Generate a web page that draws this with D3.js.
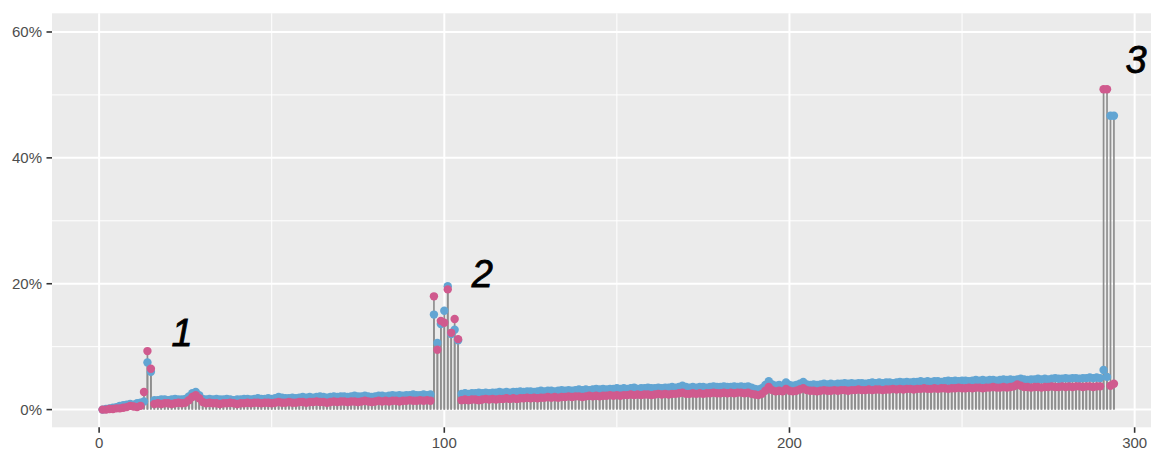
<!DOCTYPE html>
<html>
<head>
<meta charset="utf-8">
<script src="https://cdn.jsdelivr.net/npm/d3@7/dist/d3.min.js"></script>
<style>
  html, body { margin: 0; padding: 0; background: #fff; }
  svg { display: block; }
  text { font-family: "Liberation Sans", Arial, Helvetica, sans-serif; }
</style>
</head>
<body>
<svg id="chart" width="1151" height="450"></svg>
<script>
// Share (in %) per position, two groups; rows of ten, starting at position 1.
const seriesBlue = [
  0.0,0.1,0.2,0.3,0.4,0.6,0.7,0.8,0.9,0.8,
  1.0,1.1,1.3,7.5,6.0,1.5,1.5,1.6,1.6,1.5,
  1.6,1.7,1.6,1.6,1.7,2.1,2.6,2.8,2.3,1.7,
  1.6,1.7,1.6,1.7,1.6,1.6,1.7,1.6,1.5,1.6,
  1.6,1.7,1.7,1.6,1.7,1.8,1.7,1.7,1.8,1.7,
  1.8,2.0,1.9,1.8,1.8,1.9,1.8,1.9,2.0,1.9,
  2.0,1.9,2.0,2.1,2.0,1.9,2.0,2.1,2.0,2.1,
  2.1,2.0,2.1,2.2,2.1,2.1,2.2,2.1,2.0,2.1,
  2.2,2.2,2.1,2.2,2.3,2.2,2.3,2.2,2.3,2.3,
  2.4,2.3,2.3,2.4,2.3,2.4,15.1,10.6,13.6,15.7,
  19.6,12.0,12.7,11.0,2.5,2.6,2.5,2.6,2.6,2.7,
  2.6,2.7,2.6,2.7,2.7,2.8,2.7,2.8,2.7,2.8,
  2.8,2.9,2.8,2.9,2.9,2.8,2.9,3.0,2.9,3.0,
  3.0,2.9,3.0,3.1,3.0,3.1,3.0,3.1,3.2,3.1,
  3.2,3.1,3.2,3.3,3.2,3.3,3.2,3.3,3.3,3.4,
  3.3,3.4,3.3,3.4,3.5,3.3,3.4,3.4,3.5,3.4,
  3.4,3.5,3.4,3.5,3.5,3.6,3.5,3.6,3.8,3.6,
  3.5,3.6,3.5,3.6,3.6,3.5,3.6,3.7,3.6,3.6,
  3.7,3.6,3.6,3.7,3.6,3.7,3.6,3.7,3.5,3.3,
  3.2,3.4,3.9,4.5,4.0,3.8,3.9,3.8,4.3,3.9,
  3.8,3.9,4.1,4.4,4.0,3.9,4.0,3.9,4.0,4.1,
  4.0,4.1,4.0,4.1,4.1,4.2,4.1,4.2,4.1,4.2,
  4.2,4.1,4.2,4.3,4.2,4.3,4.2,4.3,4.3,4.2,
  4.3,4.4,4.3,4.4,4.3,4.4,4.4,4.5,4.4,4.5,
  4.4,4.5,4.5,4.4,4.5,4.6,4.5,4.6,4.5,4.6,
  4.6,4.5,4.6,4.7,4.6,4.7,4.6,4.7,4.7,4.6,
  4.7,4.8,4.7,4.8,4.7,4.8,4.9,4.8,4.7,4.8,
  4.8,4.9,4.8,4.9,4.8,4.9,5.0,4.9,4.9,5.0,
  4.9,5.0,5.0,4.9,5.0,5.0,5.1,5.0,5.1,5.0,
  6.3,5.2,46.7,46.7
];

const seriesPink = [
  0.0,0.0,0.1,0.1,0.2,0.2,0.3,0.4,0.6,0.5,
  0.4,0.6,2.8,9.3,6.5,0.9,1.0,0.9,1.0,1.0,
  0.9,1.0,1.1,1.0,1.1,1.5,2.0,2.3,1.8,1.2,
  1.0,1.1,1.0,1.0,0.9,1.0,1.0,1.1,1.0,0.9,
  1.0,1.0,1.1,1.0,1.1,1.1,1.0,1.1,1.1,1.0,
  1.1,1.2,1.1,1.1,1.2,1.1,1.1,1.2,1.2,1.1,
  1.2,1.2,1.3,1.2,1.2,1.1,1.2,1.3,1.2,1.3,
  1.3,1.2,1.3,1.3,1.2,1.3,1.4,1.3,1.2,1.3,
  1.4,1.3,1.4,1.3,1.4,1.4,1.3,1.4,1.4,1.5,
  1.4,1.4,1.5,1.4,1.5,1.4,18.0,9.5,14.1,13.8,
  19.1,12.2,14.4,11.2,1.5,1.6,1.5,1.6,1.6,1.5,
  1.6,1.7,1.6,1.7,1.6,1.7,1.7,1.8,1.7,1.8,
  1.7,1.8,1.8,1.9,1.8,1.9,1.8,1.9,1.9,2.0,
  1.9,2.0,1.9,2.0,2.0,2.1,2.0,2.1,2.1,2.0,
  2.1,2.2,2.1,2.2,2.1,2.2,2.2,2.3,2.2,2.3,
  2.2,2.3,2.3,2.4,2.3,2.4,2.3,2.4,2.4,2.3,
  2.4,2.5,2.4,2.5,2.4,2.5,2.5,2.6,2.7,2.5,
  2.5,2.6,2.5,2.6,2.5,2.6,2.6,2.7,2.6,2.6,
  2.7,2.6,2.7,2.6,2.7,2.7,2.6,2.7,2.5,2.4,
  2.3,2.5,3.0,3.6,3.1,2.9,3.0,2.9,3.3,3.0,
  2.9,3.0,3.2,3.4,3.1,3.0,3.0,2.9,3.0,3.1,
  3.0,3.0,3.1,3.0,3.1,3.1,3.0,3.1,3.1,3.2,
  3.1,3.1,3.2,3.1,3.2,3.2,3.1,3.2,3.2,3.3,
  3.2,3.3,3.2,3.3,3.3,3.2,3.3,3.3,3.4,3.3,
  3.3,3.4,3.3,3.4,3.4,3.3,3.4,3.4,3.5,3.4,
  3.4,3.5,3.4,3.5,3.5,3.4,3.5,3.5,3.6,3.5,
  3.5,3.6,3.5,3.6,3.7,4.0,3.8,3.6,3.6,3.5,
  3.6,3.6,3.5,3.6,3.6,3.7,3.6,3.6,3.7,3.6,
  3.7,3.6,3.7,3.7,3.6,3.7,3.7,3.6,3.7,3.7,
  50.9,50.9,3.8,4.1
];

// Positions along the x axis: 1 .. n
const positions = seriesBlue.map((_, i) => i + 1);

// Axis ticks
const xTicks = [0, 100, 200, 300];
const xMinor = [50, 150, 250];
const yTicks = [0, 0.2, 0.4, 0.6];
const yMinor = [0.1, 0.3, 0.5];

// Cluster annotations
const noteLabels = ["1", "2", "3"];
const noteX = [24, 111, 300.4];
const noteY = [0.123, 0.217, 0.557];

const colorBlue = "#62A5D3";
const colorPink = "#D05A8E";

const svg = d3.select("#chart");
const panel = { left: 52, right: 1164.5, top: 13.3, bottom: 427.3 };

const x = d3.scaleLinear().domain([-13.65, 308.65]).range([panel.left, panel.right]);
const y = d3.scaleLinear().domain([-0.0281, 0.6297]).range([panel.bottom, panel.top]);

// Panel background
svg.append("rect")
  .attr("x", panel.left).attr("y", panel.top)
  .attr("width", panel.right - panel.left).attr("height", panel.bottom - panel.top)
  .attr("fill", "#EBEBEB");

const grid = svg.append("g");
grid.selectAll(".ymin").data(yMinor).join("line")
  .attr("x1", panel.left).attr("x2", panel.right)
  .attr("y1", d => y(d)).attr("y2", d => y(d))
  .attr("stroke", "#fff").attr("stroke-width", 1);
grid.selectAll(".xmin").data(xMinor).join("line")
  .attr("y1", panel.top).attr("y2", panel.bottom)
  .attr("x1", d => x(d)).attr("x2", d => x(d))
  .attr("stroke", "#fff").attr("stroke-width", 1);
grid.selectAll(".ymaj").data(yTicks).join("line")
  .attr("x1", panel.left).attr("x2", panel.right)
  .attr("y1", d => y(d)).attr("y2", d => y(d))
  .attr("stroke", "#fff").attr("stroke-width", 2);
grid.selectAll(".xmaj").data(xTicks).join("line")
  .attr("y1", panel.top).attr("y2", panel.bottom)
  .attr("x1", d => x(d)).attr("x2", d => x(d))
  .attr("stroke", "#fff").attr("stroke-width", 2);

// Rows: one per position and group
const rows = [];
positions.forEach((p, i) => {
  rows.push({ pos: p, value: seriesBlue[i] / 100, group: "blue" });
});
positions.forEach((p, i) => {
  rows.push({ pos: p, value: seriesPink[i] / 100, group: "pink" });
});

// Stems
svg.append("g").selectAll("line").data(rows).join("line")
  .attr("x1", d => x(d.pos)).attr("x2", d => x(d.pos))
  .attr("y1", y(0)).attr("y2", d => y(d.value))
  .attr("stroke", "#8E8E8E").attr("stroke-width", 1.7);

// Dots: blue first, pink on top
["blue", "pink"].forEach(g => {
  svg.append("g").selectAll("circle").data(rows.filter(r => r.group === g)).join("circle")
    .attr("cx", d => x(d.pos)).attr("cy", d => y(d.value))
    .attr("r", 4.2)
    .attr("fill", g === "blue" ? colorBlue : colorPink);
});

// Axes: tick marks and labels
const axisG = svg.append("g");
axisG.selectAll(".yt").data(yTicks).join("line")
  .attr("x1", panel.left - 5.5).attr("x2", panel.left)
  .attr("y1", d => y(d)).attr("y2", d => y(d))
  .attr("stroke", "#333").attr("stroke-width", 1.6);
axisG.selectAll(".yl").data(yTicks).join("text")
  .attr("x", panel.left - 10).attr("y", d => y(d))
  .attr("dy", "0.36em")
  .attr("text-anchor", "end")
  .attr("font-size", 15).attr("fill", "#4D4D4D")
  .text(d3.format(".0%"));
axisG.selectAll(".xt").data(xTicks).join("line")
  .attr("x1", d => x(d)).attr("x2", d => x(d))
  .attr("y1", panel.bottom).attr("y2", panel.bottom + 5.5)
  .attr("stroke", "#333").attr("stroke-width", 1.6);
axisG.selectAll(".xl").data(xTicks).join("text")
  .attr("x", d => x(d)).attr("y", 448)
  .attr("text-anchor", "middle")
  .attr("font-size", 15).attr("fill", "#4D4D4D")
  .text(d => d);

// Annotations
svg.append("g").selectAll("text").data(noteLabels).join("text")
  .attr("x", (d, i) => x(noteX[i]))
  .attr("y", (d, i) => y(noteY[i]))
  .attr("dy", "0.36em")
  .attr("text-anchor", "middle")
  .attr("font-size", 38).attr("font-style", "italic")
  .attr("fill", "#000").attr("stroke", "#000").attr("stroke-width", 0.8)
  .text(d => d);
</script>
</body>
</html>
